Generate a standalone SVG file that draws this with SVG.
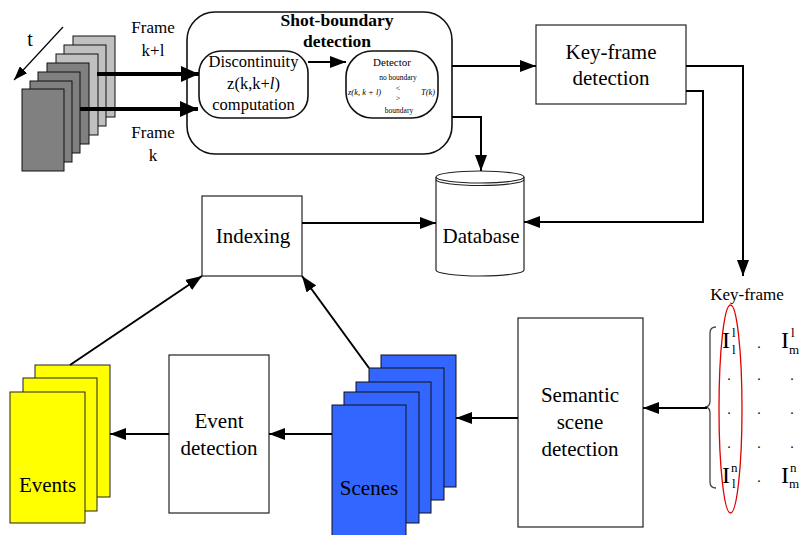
<svg xmlns="http://www.w3.org/2000/svg" width="804" height="535" viewBox="0 0 804 535" font-family="Liberation Serif, DejaVu Serif, serif">
<defs>
<style>
text{font-family:'Liberation Serif','DejaVu Serif',serif;fill:#000}
.lbl{font-size:21px;text-anchor:middle}
.box{fill:#fff;stroke:#222;stroke-width:1.2}
.rnd{fill:#fff;stroke:#111;stroke-width:1.6}
.fr{stroke:#111;stroke-width:1}
.con{fill:none;stroke:#000;stroke-width:2}
.thk{fill:none;stroke:#000;stroke-width:4}
.ev{fill:#ffff00;stroke:#222;stroke-width:1}
.sc{fill:#3366ff;stroke:#111;stroke-width:1}
.mx{font-size:24px}
.sm{font-size:13px}
</style>
<marker id="ah" markerUnits="userSpaceOnUse" markerWidth="16" markerHeight="12" refX="16" refY="6" orient="auto"><path d="M0,0 L16,6 L0,12 z" fill="#000"/></marker>
<marker id="ahb" markerUnits="userSpaceOnUse" markerWidth="18" markerHeight="16" refX="18" refY="8" orient="auto"><path d="M0,0 L18,8 L0,16 z" fill="#000"/></marker>
<marker id="aht" markerUnits="userSpaceOnUse" markerWidth="14" markerHeight="10" refX="14" refY="5" orient="auto"><path d="M0,0 L14,5 L0,10 z" fill="#000"/></marker>
</defs>
<rect width="804" height="535" fill="#fff"/>

<g id="frames">
<rect class="fr" x="73" y="36" width="42" height="81" fill="#c0c0c0"/>
<rect class="fr" x="64" y="45" width="42" height="81" fill="#c0c0c0"/>
<rect class="fr" x="56" y="54" width="42" height="81" fill="#c0c0c0"/>
<rect class="fr" x="47" y="63" width="42" height="81" fill="#808080"/>
<rect class="fr" x="38" y="72" width="42" height="81" fill="#808080"/>
<rect class="fr" x="30" y="81" width="42" height="81" fill="#808080"/>
<rect class="fr" x="22" y="89" width="42" height="82" fill="#808080"/>
<text x="30" y="46" font-size="20" text-anchor="middle">t</text>
<text x="153" y="33" font-size="17" text-anchor="middle">Frame</text>
<text x="153" y="56" font-size="17" text-anchor="middle">k+l</text>
<text x="153" y="138" font-size="17" text-anchor="middle">Frame</text>
<text x="153" y="161" font-size="17" text-anchor="middle">k</text>
</g>

<g id="shot-boundary">
<rect x="187" y="12" width="265" height="142" rx="28" ry="28" class="rnd"/>
<text x="337" y="26" font-size="17.5" font-weight="bold" text-anchor="middle">Shot-boundary</text>
<text x="337" y="47" font-size="17.5" font-weight="bold" text-anchor="middle">detection</text>
</g>

<g id="discontinuity">
<rect x="199" y="51" width="109" height="67" rx="22" ry="22" class="rnd"/>
<text x="253.5" y="67" font-size="16.5" text-anchor="middle">Discontinuity</text>
<text x="253.5" y="89" font-size="16.5" text-anchor="middle">z(k,k+<tspan font-style="italic">l</tspan>)</text>
<text x="253.5" y="110" font-size="16.5" text-anchor="middle">computation</text>
</g>

<g id="detector">
<rect x="346" y="51" width="92" height="67" rx="26" ry="26" class="rnd"/>
<text x="392" y="66" font-size="11" text-anchor="middle">Detector</text>
<text x="398" y="80" font-size="7.5" text-anchor="middle">no boundary</text>
<text x="348" y="95" font-size="8.5" font-style="italic">z(k, k + l)</text>
<text x="398" y="91" font-size="8" text-anchor="middle">&lt;</text>
<text x="398" y="101" font-size="8" text-anchor="middle">&gt;</text>
<text x="421" y="95" font-size="8.5" font-style="italic">T(k)</text>
<text x="399" y="113" font-size="7.5" text-anchor="middle">boundary</text>
</g>

<g id="keyframe-detection">
<rect x="536" y="25" width="150" height="79" class="box"/>
<text class="lbl" x="611" y="59">Key-frame</text>
<text class="lbl" x="611" y="85">detection</text>
</g>

<g id="database">
<path d="M436,177 L436,270 A44,6 0 0 0 524,270 L524,177" fill="#fff" stroke="#222" stroke-width="1.2"/>
<ellipse cx="480" cy="177" rx="44" ry="6" fill="#fff" stroke="#222" stroke-width="1.2"/>
<path d="M436,179.5 A44,6 0 0 0 524,179.5" fill="none" stroke="#222" stroke-width="1.2"/>
<text class="lbl" x="481" y="243">Database</text>
</g>

<g id="indexing">
<rect x="202" y="196" width="100" height="80" class="box"/>
<text class="lbl" x="253" y="243">Indexing</text>
</g>

<g id="semantic-scene-detection">
<rect x="518" y="318" width="125" height="209" class="box"/>
<text class="lbl" x="580" y="402">Semantic</text>
<text class="lbl" x="580" y="429">scene</text>
<text class="lbl" x="580" y="456">detection</text>
</g>

<g id="event-detection">
<rect x="169" y="355" width="100" height="158" class="box"/>
<text class="lbl" x="219" y="428">Event</text>
<text class="lbl" x="219" y="455">detection</text>
</g>

<g id="scenes">
<rect class="sc" x="381" y="355" width="75" height="132"/>
<rect class="sc" x="369" y="368" width="75" height="132"/>
<rect class="sc" x="356" y="382" width="75" height="131"/>
<rect class="sc" x="344" y="392" width="75" height="131"/>
<rect class="sc" x="332" y="405" width="74" height="135"/>
<text class="lbl" x="369" y="495">Scenes</text>
</g>

<g id="events">
<rect class="ev" x="35" y="365" width="75" height="132"/>
<rect class="ev" x="23" y="378" width="74" height="133"/>
<rect class="ev" x="10" y="392" width="75" height="131"/>
<text class="lbl" x="47.5" y="492">Events</text>
</g>

<g id="keyframe-matrix">
<text x="747" y="300" font-size="17" text-anchor="middle">Key-frame</text>
<ellipse cx="730.5" cy="409" rx="11.5" ry="104" fill="none" stroke="#e00000" stroke-width="1.3"/>
<path d="M716,327 Q710,327 710,333 L710,401 Q710,407 705,407 Q710,407 710,413 L710,482 Q710,488 716,488" fill="none" stroke="#444" stroke-width="1.3"/>
<text class="mx" x="722" y="348">I</text>
<text class="sm" x="732" y="337">l</text>
<text class="sm" x="732" y="354">l</text>
<text x="759" y="348" font-size="14" text-anchor="middle">.</text>
<text class="mx" x="781" y="348">I</text>
<text class="sm" x="791" y="337">l</text>
<text class="sm" x="789" y="354">m</text>
<text x="729" y="380" font-size="14" text-anchor="middle">.</text>
<text x="759" y="380" font-size="14" text-anchor="middle">.</text>
<text x="792" y="380" font-size="14" text-anchor="middle">.</text>
<text x="729" y="414" font-size="14" text-anchor="middle">.</text>
<text x="759" y="414" font-size="14" text-anchor="middle">.</text>
<text x="792" y="414" font-size="14" text-anchor="middle">.</text>
<text x="729" y="448" font-size="14" text-anchor="middle">.</text>
<text x="759" y="448" font-size="14" text-anchor="middle">.</text>
<text x="792" y="448" font-size="14" text-anchor="middle">.</text>
<text class="mx" x="722" y="483">I</text>
<text class="sm" x="731" y="472">n</text>
<text class="sm" x="732" y="488">l</text>
<text x="759" y="482" font-size="14" text-anchor="middle">.</text>
<text class="mx" x="781" y="483">I</text>
<text class="sm" x="790" y="472">n</text>
<text class="sm" x="789" y="488">m</text>
</g>

<g id="connectors">
<path d="M63,27 L14,80" fill="none" stroke="#000" stroke-width="1.2" marker-end="url(#aht)"/>
<path class="thk" d="M97,74 H199" marker-end="url(#ahb)"/>
<path class="thk" d="M80,109 H198" marker-end="url(#ahb)"/>
<path class="con" d="M308,62 H346" marker-end="url(#ah)"/>
<path class="con" d="M452,66 H536" marker-end="url(#ah)"/>
<path class="con" d="M452,117 H481 V171" marker-end="url(#ah)"/>
<path class="con" d="M686,91 H703 V222 H524" marker-end="url(#ah)"/>
<path class="con" d="M686,66 H743 V276" marker-end="url(#ah)"/>
<path class="con" d="M302,223 H436" marker-end="url(#ah)"/>
<path class="con" d="M707,408 H643" marker-end="url(#ah)"/>
<path class="con" d="M518,418 H456" marker-end="url(#ah)"/>
<path class="con" d="M332,434 H269" marker-end="url(#ah)"/>
<path class="con" d="M169,434 H110" marker-end="url(#ah)"/>
<path class="con" d="M70,365 L202,276" marker-end="url(#ah)"/>
<path class="con" d="M369,368 L302,276" marker-end="url(#ah)"/>
</g>
</svg>
